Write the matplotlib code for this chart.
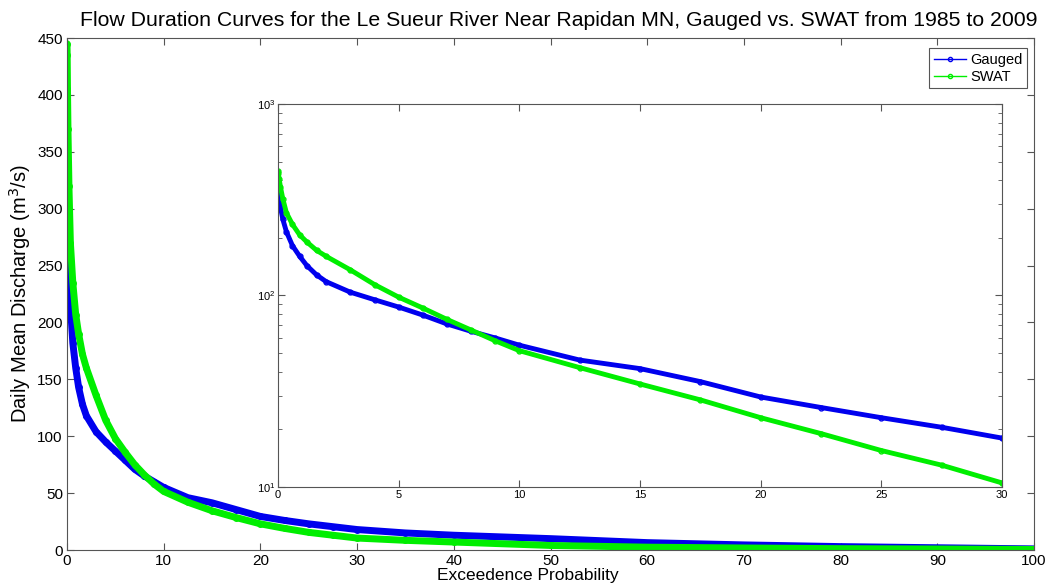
import matplotlib.pyplot as plt
from matplotlib.lines import Line2D
from matplotlib.ticker import LogLocator, NullFormatter

plt.rcParams['font.family'] = ['Liberation Sans', 'DejaVu Sans']

# exceedence probability (%) and daily mean discharge (m3/s)
gauged_p = [0, 0.02, 0.05, 0.1, 0.2, 0.35, 0.6, 0.9, 1.2, 1.6, 2.0, 3.0, 4.0, 5.0,
            6.0, 7.0, 8.0, 9.0, 10.0, 12.5, 15.0, 17.5, 20.0, 22.5, 25.0, 27.5, 30.0,
            35.0, 40.0, 50.0, 60.0, 70.0, 80.0, 90.0, 100.0]
gauged_q = [362, 345, 318, 290, 250, 215, 182, 160, 143, 128, 118, 104, 95, 87,
            79, 71, 65, 60, 55, 46, 41.5, 35.5, 29.5, 26, 23, 20.5, 18,
            15, 13, 10, 6.5, 4.5, 3, 2, 1]

swat_p = [0, 0.02, 0.05, 0.1, 0.2, 0.35, 0.6, 0.9, 1.2, 1.6, 2.0, 3.0, 4.0, 5.0,
          6.0, 7.0, 8.0, 9.0, 10.0, 12.5, 15.0, 17.5, 20.0, 22.5, 25.0, 27.5, 30.0,
          35.0, 40.0, 50.0, 60.0, 70.0, 80.0, 90.0, 100.0]
swat_q = [445, 435, 405, 370, 320, 270, 235, 207, 190, 172, 160, 136, 114, 98,
          86, 75, 66, 58, 51.5, 42, 34.5, 28.5, 23, 19, 15.5, 13, 10.5,
          8.5, 7, 4, 2.5, 1.8, 1.2, 0.9, 0.5]

BLUE = '#0000ee'
GREEN = '#00ee00'
EDGE = '#555555'

fig = plt.figure(figsize=(10.57, 5.88), dpi=100)

ax = fig.add_axes([0.0634, 0.0646, 0.9149, 0.8707])
for p, q, c in [(gauged_p, gauged_q, BLUE), (swat_p, swat_q, GREEN)]:
    ax.plot(p, q, '-', color=c, lw=5, solid_capstyle='round')
    ax.plot(p, q, 'o', color=c, ms=4, mfc='none', mew=1)
ax.set_xlim(0, 100)
ax.set_ylim(0, 450)
ax.set_xticks(range(0, 101, 10))
ax.set_yticks(range(0, 451, 50))
ax.tick_params(direction='in', top=True, right=True, length=5, labelsize=11, color=EDGE, pad=3)
for s in ax.spines.values():
    s.set_color(EDGE)
ax.set_title('Flow Duration Curves for the Le Sueur River Near Rapidan MN, Gauged vs. SWAT from 1985 to 2009',
             fontsize=15.3, pad=9, x=0.508)
ax.set_xlabel('Exceedence Probability', fontsize=12.5, labelpad=-1)
ax.xaxis.set_label_coords(0.476, -0.035)
ax.set_ylabel('Daily Mean Discharge (m$^3$/s)', fontsize=14.5, labelpad=3)

handles = [Line2D([], [], color=BLUE, lw=1, marker='o', ms=3, mfc='none'),
           Line2D([], [], color=GREEN, lw=1, marker='o', ms=3, mfc='none')]
leg = ax.legend(handles, ['Gauged', 'SWAT'], loc='upper right', fontsize=10.5,
                fancybox=False, framealpha=1, edgecolor=EDGE, handlelength=2.2,
                borderpad=0.3, labelspacing=0.2, handletextpad=0.3,
                bbox_to_anchor=(1.0, 0.994))
leg.get_frame().set_linewidth(0.8)

ins = fig.add_axes([0.263, 0.1718, 0.685, 0.6514])
for p, q, c in [(gauged_p, gauged_q, BLUE), (swat_p, swat_q, GREEN)]:
    ins.plot(p, q, '-', color=c, lw=3.5, solid_capstyle='round')
    ins.plot(p, q, 'o', color=c, ms=3.5, mfc='none', mew=1)
ins.set_yscale('log')
ins.set_xlim(0, 30)
ins.set_ylim(10, 1000)
ins.set_xticks(range(0, 31, 5))
ins.yaxis.set_minor_locator(LogLocator(base=10, subs=range(2, 10)))
ins.yaxis.set_minor_formatter(NullFormatter())
ins.tick_params(which='both', direction='in', top=True, right=True, labelsize=8, color=EDGE, pad=2)
ins.tick_params(which='major', length=5)
ins.tick_params(which='minor', length=3)
for s in ins.spines.values():
    s.set_color(EDGE)

fig.savefig('out.png', dpi=100)
